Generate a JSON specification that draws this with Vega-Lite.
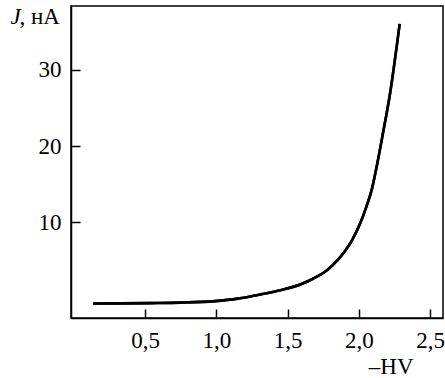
{
  "$schema": "https://vega.github.io/schema/vega-lite/v6.json",
  "autosize": {"type": "none"},
  "width": 372,
  "height": 312,
  "padding": {"left": 71, "top": 6, "right": 2, "bottom": 60},
  "background": "white",
  "config": {
    "view": {"stroke": "black", "strokeWidth": 1.5},
    "font": "Liberation Serif",
    "axis": {
      "labelFont": "Liberation Serif",
      "titleFont": "Liberation Serif",
      "labelFontSize": 23,
      "titleFontSize": 23,
      "labelColor": "black",
      "titleColor": "black",
      "domainColor": "black",
      "domainWidth": 1.5,
      "tickColor": "black",
      "tickWidth": 1.5,
      "tickSize": -9,
      "grid": false,
      "titleFontWeight": "normal"
    }
  },
  "data": {
    "values": [
      {"HV": 0.135, "J": -0.70},
      {"HV": 0.325, "J": -0.68},
      {"HV": 0.535, "J": -0.64},
      {"HV": 0.745, "J": -0.58},
      {"HV": 0.99, "J": -0.38},
      {"HV": 1.15, "J": -0.05},
      {"HV": 1.308, "J": 0.49},
      {"HV": 1.448, "J": 1.05},
      {"HV": 1.588, "J": 1.8},
      {"HV": 1.681, "J": 2.59},
      {"HV": 1.776, "J": 3.68},
      {"HV": 1.857, "J": 5.13},
      {"HV": 1.952, "J": 7.63},
      {"HV": 2.01, "J": 9.87},
      {"HV": 2.052, "J": 12.0},
      {"HV": 2.092, "J": 14.4},
      {"HV": 2.13, "J": 17.8},
      {"HV": 2.17, "J": 21.8},
      {"HV": 2.216, "J": 26.6},
      {"HV": 2.286, "J": 36.05}
    ]
  },
  "layer": [
    {
      "mark": {"type": "line", "interpolate": "monotone", "color": "black", "strokeWidth": 2.6},
      "encoding": {
        "x": {
          "field": "HV", "type": "quantitative",
          "scale": {"domain": [-0.02, 2.59], "nice": false, "zero": false},
          "axis": {
            "values": [0.5, 1, 1.5, 2, 2.5],
            "labelExpr": "replace(format(datum.value, '.1f'), '.', ',')",
            "labelPadding": 20,
            "labelBaseline": "top",
            "title": "–HV",
            "titleAnchor": null,
            "titleAlign": "right",
            "titleBaseline": "alphabetic",
            "titleX": 342,
            "titleY": 55
          }
        },
        "y": {
          "field": "J", "type": "quantitative",
          "scale": {"domain": [-2.6, 38.4], "nice": false, "zero": false},
          "axis": {
            "values": [10, 20, 30],
            "format": "d",
            "labelPadding": 19,
            "title": "J",
            "titleFontStyle": "italic",
            "titleAngle": 0,
            "titleAlign": "left",
            "titleBaseline": "alphabetic",
            "titleX": -61,
            "titleY": 17
          }
        }
      }
    },
    {
      "mark": {"type": "line", "interpolate": "monotone", "color": "black", "strokeWidth": 2.6},
      "encoding": {
        "x": {"field": "HV", "type": "quantitative"},
        "y": {
          "field": "J", "type": "quantitative",
          "axis": {
            "orient": "left",
            "labels": false,
            "ticks": false,
            "domain": false,
            "title": ", нА",
            "titleAngle": 0,
            "titleAlign": "left",
            "titleBaseline": "alphabetic",
            "titleX": -52,
            "titleY": 17
          }
        }
      }
    }
  ],
  "resolve": {"axis": {"y": "independent"}}
}
